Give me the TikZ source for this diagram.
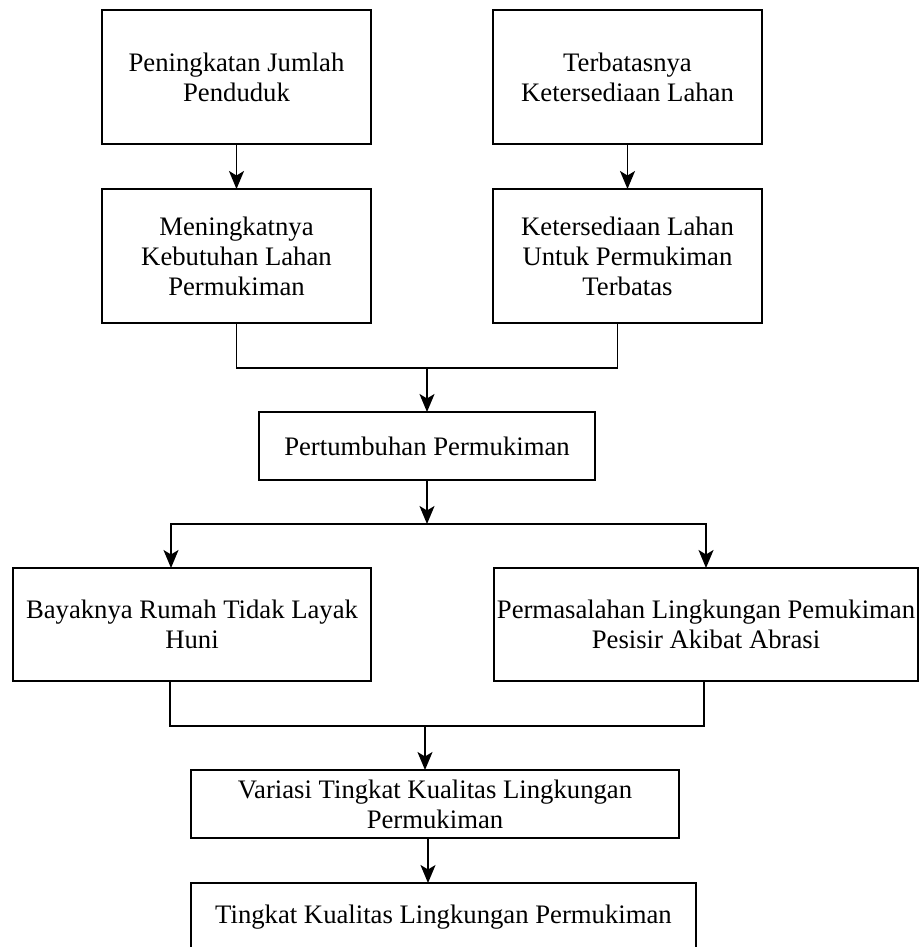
\documentclass[tikz,border=0pt]{standalone}
\usepackage{fontspec}
\setmainfont{Liberation Serif}
\usetikzlibrary{arrows.meta}
\tikzset{mybox/.style={draw,line width=1.7pt,inner sep=0pt,outer sep=0pt,align=center,font=\fontsize{26.7}{30}\selectfont},
mylink/.style={line width=1.7pt},
myarrow/.style={mylink,-{Stealth[length=18pt,width=15pt,inset=4.5pt]}}}

\begin{document}
\begin{tikzpicture}[x=1pt,y=-1pt]
\clip (0,0) rectangle (921,947);
\fill[white] (0,0) rectangle (921,947);
% top row
\node[mybox,minimum width=269pt,minimum height=134pt] (jumlah) at (236.5,77) {Peningkatan Jumlah\\Penduduk};
\node[mybox,minimum width=269pt,minimum height=134pt] (terbatas) at (627.5,77) {Terbatasnya\\Ketersediaan Lahan};
\node[mybox,minimum width=269pt,minimum height=134pt] (kebutuhan) at (236.5,256) {Meningkatnya\\Kebutuhan Lahan\\Permukiman};
\node[mybox,minimum width=269pt,minimum height=134pt] (sedia) at (627.5,256) {Ketersediaan Lahan\\Untuk Permukiman\\Terbatas};
\node[mybox,minimum width=336pt,minimum height=68pt] (tumbuh) at (427,446) {Pertumbuhan Permukiman};
% second half
\node[mybox,minimum width=358pt,minimum height=113pt] (rumah) at (192,624.5) {Bayaknya Rumah Tidak Layak\\Huni};
\node[mybox,minimum width=424pt,minimum height=113pt] (abrasi) at (706,624.5) {Permasalahan Lingkungan Pemukiman\\Pesisir Akibat Abrasi};
\node[mybox,minimum width=488pt,minimum height=68pt] (variasi) at (435,804) {Variasi Tingkat Kualitas Lingkungan\\Permukiman};
\node[mybox,minimum width=505pt,minimum height=80pt,text height=19pt,text depth=19pt,anchor=north] (kualitas) at (443.5,883) {Tingkat Kualitas Lingkungan Permukiman};

\draw[myarrow] (jumlah) -- (kebutuhan);
\draw[myarrow] (terbatas) -- (sedia);

\coordinate (m1) at (427,368);
\coordinate (d1) at ([xshift=-10pt]sedia.south);
\draw[mylink] (kebutuhan.south) |- (m1) -| (d1);
\draw[myarrow] (m1) -- (tumbuh.north);

\coordinate (s1) at (427,524);
\coordinate (f1) at ([xshift=-21pt]rumah.north);
\draw[myarrow] (tumbuh.south) -- (s1);
\draw[myarrow] (s1) -| (f1);
\draw[myarrow] (s1) -| (abrasi.north);

\coordinate (m2) at (425,726);
\coordinate (f2) at ([xshift=-22pt]rumah.south);
\draw[mylink] (f2) |- (m2) -| ([xshift=-2pt]abrasi.south);
\draw[myarrow] (m2) -- (m2 |- variasi.north);

\coordinate (h1) at ([xshift=-7pt]variasi.south);
\draw[myarrow] (h1) -- (h1 |- kualitas.north);
\end{tikzpicture}
\end{document}
